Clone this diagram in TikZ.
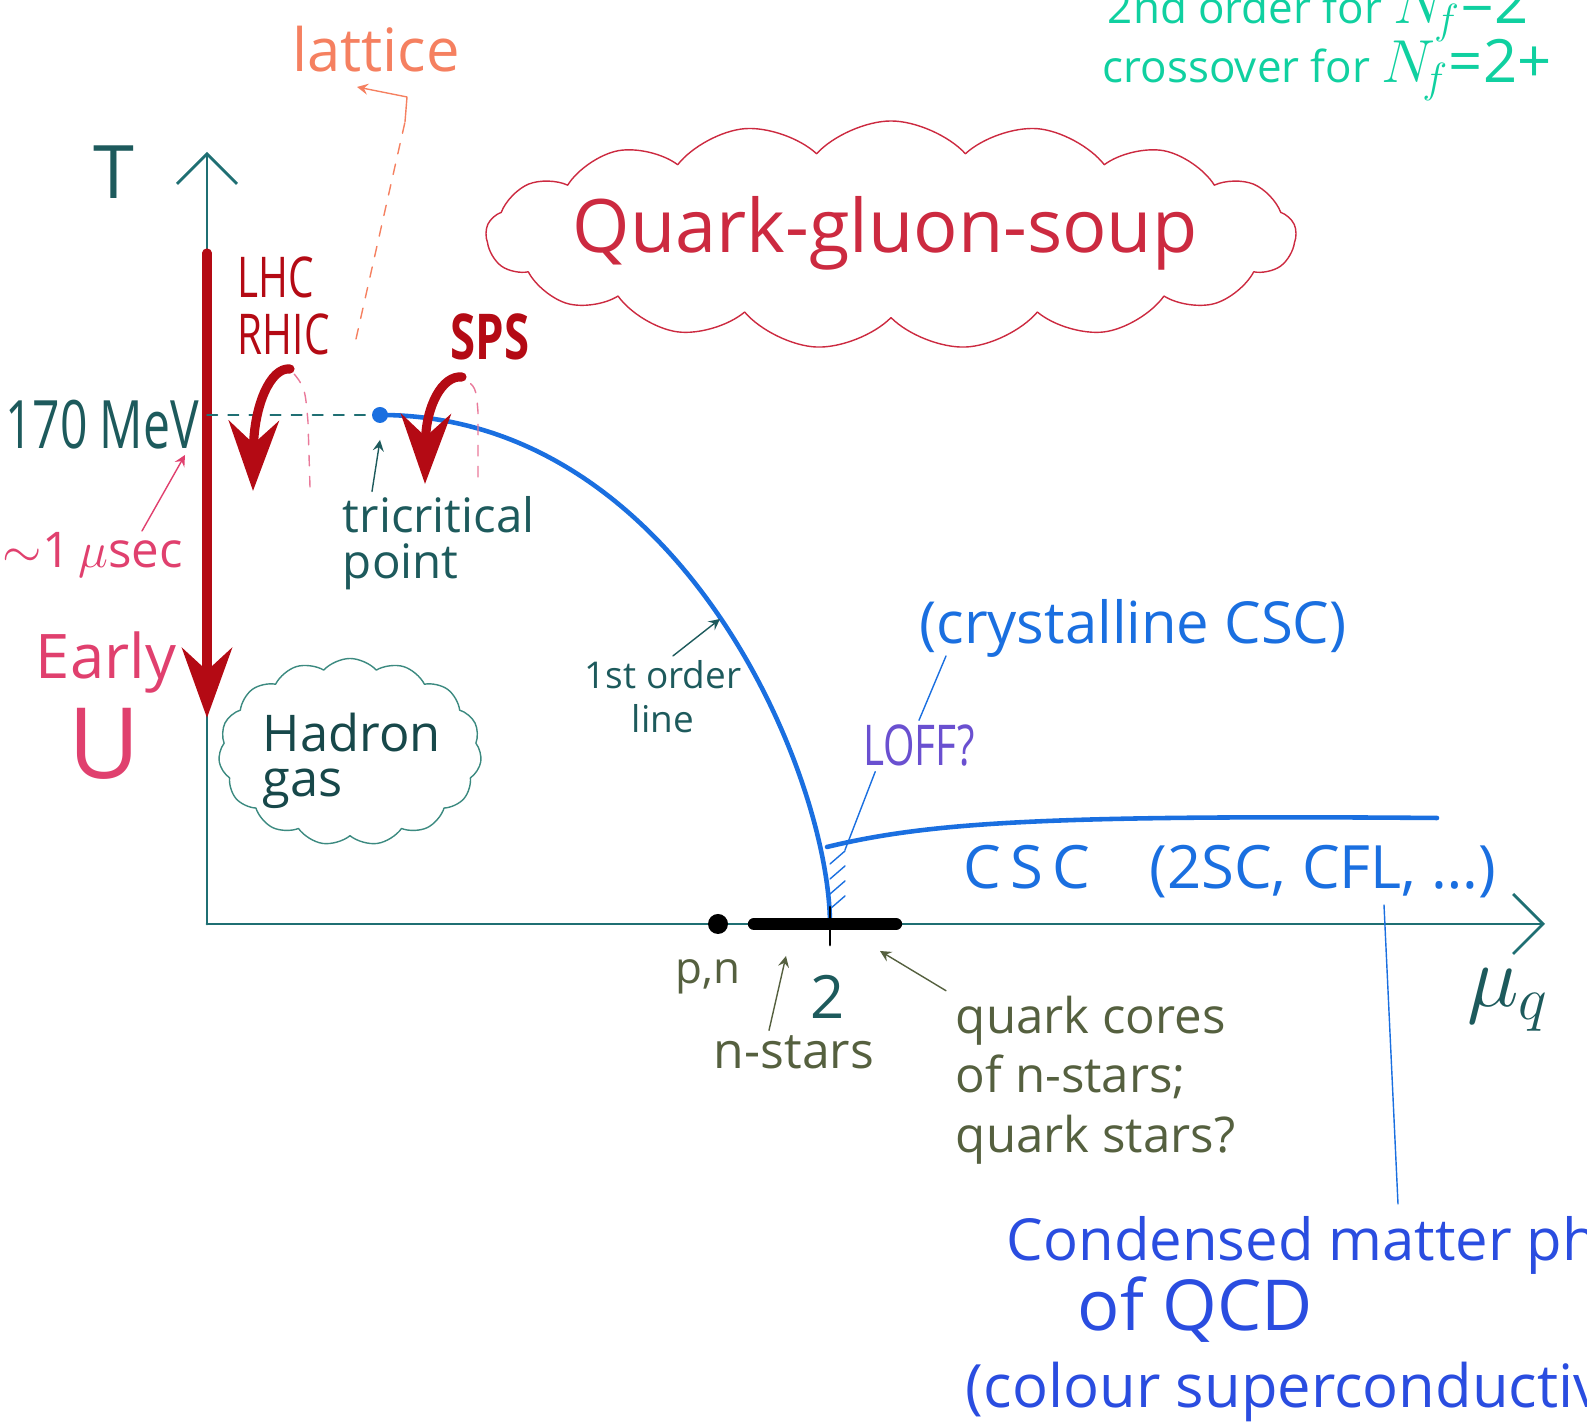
\documentclass[tikz,border=0pt]{standalone}
\usepackage{fontspec}
\setmainfont{Open Sans}
\newfontfamily\narrowfont{Open Sans}[FakeStretch=0.72]
\usetikzlibrary{arrows.meta,shapes.symbols}
\definecolor{axiscol}{HTML}{1F6F73}
\definecolor{textcol}{HTML}{1D5A5C}
\definecolor{olivecol}{HTML}{55603F}
\definecolor{bluecol}{HTML}{1A6FE0}
\definecolor{redcol}{HTML}{B40A14}
\definecolor{qgpcol}{HTML}{CC2A40}
\definecolor{latcol}{HTML}{F58060}
\definecolor{greencol}{HTML}{10D0A0}
\definecolor{pinkcol}{HTML}{E0406E}
\definecolor{hadcol}{HTML}{3C8A80}
\definecolor{loffcol}{HTML}{6A50D0}
\definecolor{condcol}{HTML}{2A4DE0}
\newcommand{\fs}[1]{\fontsize{#1}{#1}\selectfont}
\begin{document}
\begin{tikzpicture}[line join=round, line cap=round, >=stealth, thick,
  axisarrow/.style={-{Straight Barb[length=3mm,width=6mm]}},
  bigred/.style={redcol, line width=2.6pt, -{Stealth[length=7mm,width=5mm]}},
  heatline/.style={pinkcol!70, thin, dashed},
  lab/.style={inner sep=1pt}]
\useasboundingbox (0,0) rectangle (15.87,14.27);
\clip (0,0) rectangle (15.87,14.27);
% axes
\coordinate (O) at (2.07,5.03);
\draw[axiscol,axisarrow] (O)--(15.45,5.03) coordinate (muend);
\draw[axiscol,axisarrow] (O)--(2.07,12.75) coordinate (Tend);
\node[lab,textcol,font=\fs{21}] (Tlab) at (1.14,12.55) {T};
\node[lab,textcol,font=\fs{23}] (mulab) at (15.08,4.27) {$\mu_q$};
% early universe
\draw[bigred] (2.07,11.74) -- (2.07,7.09);
\node[lab,textcol,font=\narrowfont\fs{19}] (mev) at (1.02,10.02) {170 MeV};
\node[lab,pinkcol,font=\fs{14}] (usec) at (0.93,8.72) {$\sim$1\,$\mu$sec};
\draw[->,pinkcol,thin] (1.42,8.96) -- (1.85,9.72);
\node[lab,pinkcol,font=\fs{17.5}] (early) at (1.06,7.64) {Early};
\node[lab,pinkcol,font=\fs{28}] (ulab) at (1.04,6.83) {U};
% tricritical point and 1st order line
\coordinate (tricrit) at (3.80,10.12);
\draw[axiscol,dashed,thin] (2.07,10.12) -- (tricrit);
\draw[bluecol,line width=1.3pt] (tricrit) .. controls (6.80,10.12) and (8.30,6.52) .. (8.30,5.02) coordinate (mu2);
\fill[bluecol] (tricrit) circle (0.08);
\node[lab,textcol,align=left,anchor=west,font=\fontsize{13.5}{13}\selectfont] (trilab) at (3.38,8.84) {tricritical\\point};
\draw[->,textcol,thin] ([xshift=3.4mm]trilab.north west) -- ([yshift=-2.5mm]tricrit);
\node[lab,textcol,align=center,font=\fontsize{10.5}{12.5}\selectfont] (ordlab) at (6.63,7.30) {1st order\\line};
\coordinate (ordpt) at (7.20,8.08);
\draw[->,textcol,thin] ([xshift=1mm]ordlab.north) -- (ordpt);
% collider trajectories
\node[lab,redcol,align=left,anchor=west,font=\narrowfont\fontsize{16}{16}\selectfont] (lhc) at (2.33,11.21) {LHC\\RHIC};
\coordinate (lhctop) at (2.90,10.58);
\draw[heatline] (3.10,9.40) -- (3.08,10.05) .. controls (3.05,10.4) .. (lhctop);
\draw[bigred] (lhctop) .. controls (2.70,10.60) and (2.54,10.20) .. (2.53,9.36);
\node[lab,redcol,font=\narrowfont\bfseries\fs{18}] (sps) at (4.90,10.90) {SPS};
\coordinate (spstop) at (4.62,10.50);
\draw[heatline] (4.78,9.50) -- (4.78,10.15) .. controls (4.76,10.4) .. (spstop);
\draw[bigred] (spstop) .. controls (4.42,10.52) and (4.26,10.20) .. (4.25,9.43);
% lattice
\node[lab,latcol,font=\fs{17}] (lattice) at (3.76,13.78) {lattice};
\draw[latcol,dashed,thin] (3.56,10.88) -- (4.05,13.05);
\draw[->,latcol,thin] (4.05,13.05) -- (4.07,13.30) -- (3.57,13.40);
% flavour remarks
\node[lab,greencol,anchor=base west,font=\fs{12.5}] (secord) at (11.03,14.03) {2nd order for {\fs{17}$N_{\!f}$=2}};
\node[lab,greencol,anchor=base west,font=\fs{12.5}] (cross) at (10.98,13.44) {crossover for {\fs{17}$N_{\!f}$=2+}};
% phases
\node[cloud, cloud puffs=17, cloud puff arc=95, cloud ignores aspect, draw=qgpcol, thin,
  minimum width=8.1cm, minimum height=2.28cm] (qgp) at (8.91,11.92) {};
\node[lab,qgpcol,font=\fs{21}] (qgptext) at (8.85,11.94) {Quark-gluon-soup};
\node[cloud, cloud puffs=15, cloud puff arc=95, cloud ignores aspect, draw=hadcol, thin,
  minimum width=2.63cm, minimum height=1.87cm] (had) at (3.50,6.75) {};
\node[lab,textcol!80!black,align=left,anchor=west,font=\fontsize{14.4}{13}\selectfont] (hadtext) at (2.58,6.66) {Hadron\\gas};
% colour superconductivity
\draw[bluecol,line width=1.3pt] (8.27,5.80) .. controls (9.3,6.05) and (10.5,6.12) .. (14.37,6.09);
\foreach \y in {5.18,5.33,5.48,5.63}
  \draw[bluecol,thin] (8.30,\y) -- ++(0.15,0.13);
\node[lab,bluecol,font=\fs{17}] (csc) at (12.30,5.55) {{\addfontfeature{LetterSpace=15}CSC}\quad(2SC, CFL, \dots)};
\node[lab,bluecol,font=\fs{16.5}] (cryst) at (11.33,7.99) {(crystalline CSC)};
\node[lab,loffcol,font=\narrowfont\fs{16}] (loff) at (9.19,6.81) {LOFF?};
\draw[bluecol,thin] (9.46,7.71) -- (loff.north);
\draw[bluecol,thin] ([xshift=1.7mm]loff.south west) -- (8.45,5.77);
\coordinate (condtop) at (13.84,5.22);
\draw[bluecol,thin] (condtop) -- (13.98,2.23);
\node[lab,condcol,anchor=west,font=\fs{16.5}] (cond) at (10.02,1.82) {Condensed matter physics};
\node[lab,condcol,anchor=west,font=\fs{20}] (qcd) at (10.73,1.17) {of QCD};
\node[lab,condcol,anchor=west,font=\fs{17}] (csup) at (9.61,0.35) {(colour superconductivity)};
% compact stars
\fill[black] (7.18,5.03) circle (0.1);
\draw[black,line width=3.5pt] (7.54,5.03) -- (8.96,5.03);
\draw[black,thick] (8.30,5.20) -- (8.30,4.82);
\node[lab,olivecol,font=\fs{12.5}] (pn) at (7.08,4.50) {p,n};
\node[lab,textcol,font=\fs{17}] (two) at (8.28,4.30) {2};
\node[lab,olivecol,font=\fs{14.2}] (nstars) at (7.94,3.75) {n-stars};
\draw[->,olivecol,thin] ([xshift=-2.5mm]nstars.north) -- (7.86,4.71);
\node[lab,olivecol,align=left,anchor=west,font=\fontsize{14}{17}\selectfont] (cores) at (9.51,3.47) {quark cores\\of n-stars;\\quark stars?};
\draw[->,olivecol,thin] ([xshift=-0.5mm]cores.north west) -- (8.80,4.76);
\end{tikzpicture}
\end{document}
